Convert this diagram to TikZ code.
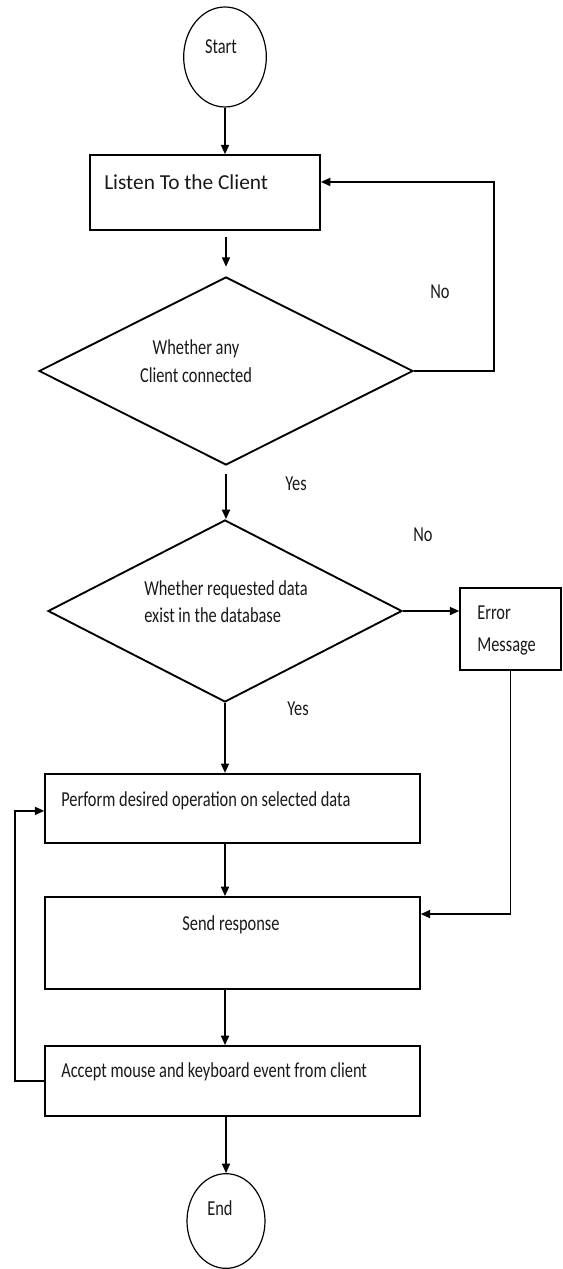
\documentclass[tikz,border=0pt]{standalone}
\usepackage{fontspec}
\setmainfont{Carlito}
\usetikzlibrary{shapes.geometric,arrows.meta}
\newcommand{\tall}[1]{\scalebox{1}[1.3]{#1}}

\begin{document}
\begin{tikzpicture}[x=0.75pt,y=0.75pt,yscale=-1,xscale=1,
  box/.style={draw, line width=1.4pt, rectangle, inner sep=0pt},
  decision/.style={draw, line width=1.4pt, diamond, inner sep=0pt},
  terminal/.style={draw, line width=0.9pt, ellipse, inner sep=0pt},
  arr/.style={line width=1.2pt, -{Triangle[length=7pt,width=6pt]}},
  txt/.style={inner sep=0pt, text=black!90, font=\fontsize{12.3}{21}\selectfont}]
\useasboundingbox (0,0) rectangle (563,1269);

%Shape: Ellipse [start]
\node[terminal, minimum width=62pt, minimum height=75pt] (start) at (225,57) {};
%Shape: Rectangle [listen]
\node[box, minimum width=172.5pt, minimum height=56pt] (listen) at (205,192.5) {};
%Shape: Diamond [client]
\node[decision, minimum width=280.5pt, minimum height=141pt] (client) at (226,371) {};
%Shape: Diamond [exist]
\node[decision, minimum width=265.5pt, minimum height=136.5pt] (exist) at (225,611) {};
%Shape: Rectangle [error]
\node[box, minimum width=75.5pt, minimum height=61.5pt] (error) at (510.5,629) {};
%Shape: Rectangle [perform]
\node[box, minimum width=281pt, minimum height=52pt] (perform) at (232.5,808.5) {};
%Shape: Rectangle [send]
\node[box, minimum width=281pt, minimum height=69pt] (send) at (232.5,943) {};
%Shape: Rectangle [accept]
\node[box, minimum width=281pt, minimum height=52.5pt] (accept) at (232.5,1081) {};
%Shape: Ellipse [end]
\node[terminal, minimum width=58.5pt, minimum height=71pt] (end) at (226,1221) {};

%Connectors
\draw[arr] (start.south) -- (start.south |- listen.north);
\draw[arr, shorten <=5pt, shorten >=7pt] (listen.south -| client.north) -- (client.north);
\draw[arr] (client.east) -- ++(80,0) |- ([yshift=-7.9pt]listen.east);
\draw[arr, shorten <=6pt] (client.south) -- (exist.north -| client.south);
\draw[arr] (exist.east) -- (exist.east -| error.west);
\draw[arr] (exist.south) -- (exist.south |- perform.north);
\draw[arr] (error.south) |- ([yshift=-21.7pt]send.east);
\draw[arr] (exist.south |- perform.south) -- (exist.south |- send.north);
\draw[arr] (exist.south |- send.south) -- (exist.south |- accept.north);
\draw[arr] (accept.south -| end.north) -- (end.north);
\draw[arr] (accept.west) -- ++(-29,0) |- ([yshift=1.8pt]perform.west);

% Text Node
\node[txt] (tstart) at (221,47) {\tall{Start}};
% Text Node
\node[txt, anchor=west, font=\fontsize{16}{19}\selectfont] (tlisten) at (104,182) {Listen To the Client};
% Text Node
\node[txt, align=center] (tclient) at (196,361) {\tall{Whether any}\\\tall{Client connected}};
% Text Node
\node[txt] (tno1) at (440,292) {\tall{No}};
% Text Node
\node[txt] (tyes1) at (296,484) {\tall{Yes}};
% Text Node
\node[txt, align=left, anchor=west, font=\fontsize{12.3}{20}\selectfont] (texist) at (144,602) {\tall{Whether requested data}\\\tall{exist in the database}};
% Text Node
\node[txt] (tno2) at (423,535) {\tall{No}};
% Text Node
\node[txt, align=left, anchor=west, font=\fontsize{12.3}{24}\selectfont] (terror) at (477,630) {\tall{Error}\\\tall{Message}};
% Text Node
\node[txt] (tyes2) at (298,709) {\tall{Yes}};
% Text Node
\node[txt, anchor=west] (tperform) at (61,801) {\tall{Perform desired operation on selected data}};
% Text Node
\node[txt] (tsend) at (231,925) {\tall{Send response}};
% Text Node
\node[txt, anchor=west] (taccept) at (61,1072) {\tall{Accept mouse and keyboard event from client}};
% Text Node
\node[txt] (tend) at (220,1208) {\tall{End}};

\end{tikzpicture}
\end{document}
